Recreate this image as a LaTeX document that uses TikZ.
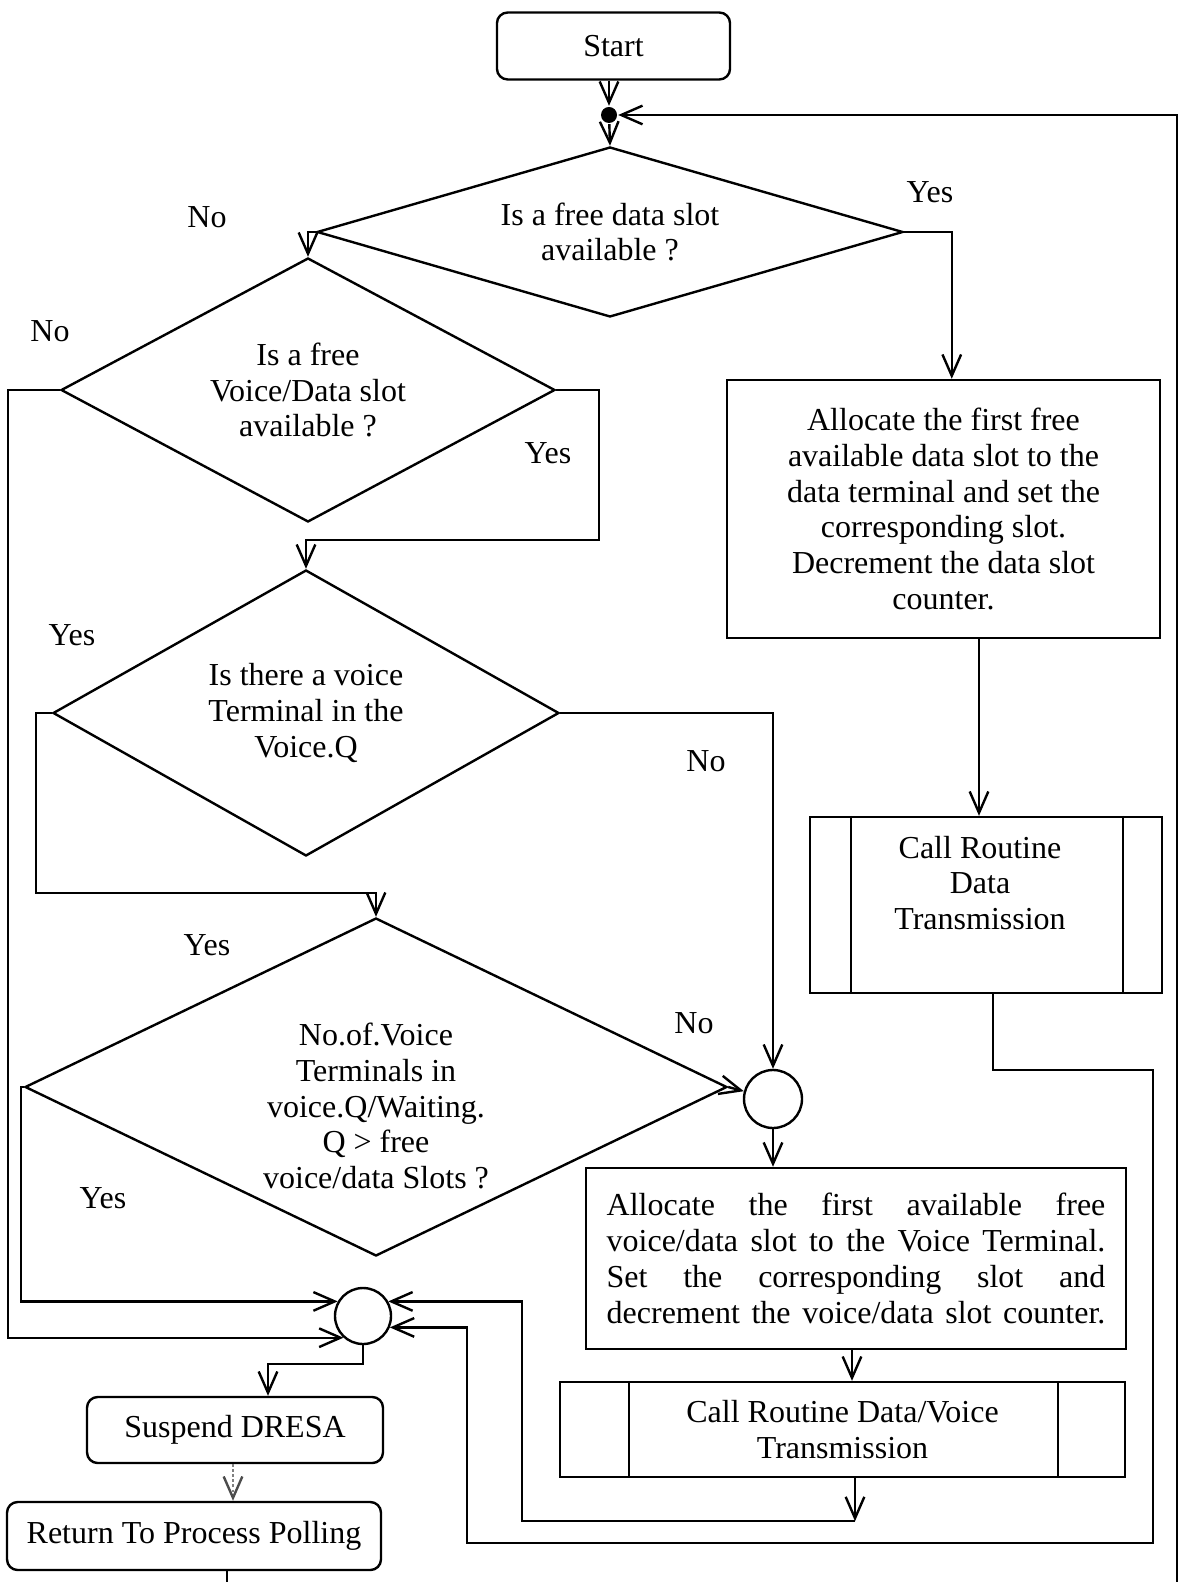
\documentclass[tikz,border=0pt]{standalone}
\usepackage{fontspec}
\setmainfont{Liberation Serif}
\usetikzlibrary{arrows.meta,shapes.geometric,calc}

\begin{document}
\begin{tikzpicture}[x=0.375pt, y=-0.375pt,
  font=\fontsize{12}{13.4}\selectfont,
  line width=0.9pt,
  >={Straight Barb[length=8pt,width=7pt]},
  term/.style={draw, rectangle, rounded corners=4pt, inner sep=0pt},
  proc/.style={draw, rectangle, inner sep=0pt, align=center},
  decision/.style={draw, diamond, inner sep=0pt, align=center},
  junction/.style={draw, circle, inner sep=0pt, minimum size=#1},
  txt/.style={inner sep=0pt, align=center},
  lbl/.style={inner sep=0pt}]

\useasboundingbox (0,0) rectangle (1185,1582);

% ---------- nodes ----------
\node[term, minimum width=87.4pt, minimum height=25.1pt] (start) at (613.5,46) {Start};
\node[circle, fill=black, inner sep=0pt, minimum size=6pt] (J) at (609,115) {};

\node[decision, shape aspect=3.45, minimum width=219.75pt, minimum height=63.75pt] (D1) at (610,232)
  {Is a free data slot\\available ?};
\node[decision, shape aspect=1.87, minimum width=185.25pt, minimum height=99pt] (D2) at (308,390)
  {Is a free\\Voice/Data slot\\available ?};
\node[decision, shape aspect=1.77, minimum width=189.75pt, minimum height=107.25pt] (D3) at (306,713)
  {Is there a voice\\Terminal in the\\Voice.Q};
\node[decision, shape aspect=2.08, minimum width=263.25pt, minimum height=126.75pt] (D4) at (376,1087) {};
\node[txt] (D4text) at (376,1106)
  {No.of.Voice\\Terminals in\\voice.Q/Waiting.\\Q > free\\voice/data Slots ?};

\node[proc, minimum width=162.4pt, minimum height=96.75pt] (alloc1) at (943.5,509)
  {Allocate the first free\\available data slot to the\\data terminal and set the\\corresponding slot.\\Decrement the data slot\\counter.};

\node[proc, minimum width=132pt, minimum height=66pt] (call1) at (986,905) {};
\node[txt] (call1text) at (980,883) {Call Routine\\Data\\Transmission};

\node[junction=21.75pt] (C) at (773,1099) {};

\node[draw, rectangle, inner sep=0pt, minimum width=202.5pt, minimum height=67.9pt,
      text width=187pt, align=left] (alloc2) at (856,1258.5)
  {\makebox[187pt][s]{Allocate\hfill the\hfill first\hfill available\hfill free}\\
   \makebox[187pt][s]{voice/data\hfill slot\hfill to\hfill the\hfill Voice\hfill Terminal.}\\
   \makebox[187pt][s]{Set\hfill the\hfill corresponding\hfill slot\hfill and}\\
   \makebox[187pt][s]{decrement\hfill the\hfill voice/data\hfill slot\hfill counter.}};

\node[proc, minimum width=211.9pt, minimum height=35.6pt] (call2) at (842.5,1429.5)
  {Call Routine Data/Voice\\Transmission};

\node[junction=21pt] (M) at (363,1316) {};

\node[term, minimum width=111pt, minimum height=24.75pt] (suspend) at (235,1430) {Suspend DRESA};
\node[term, minimum width=140.25pt, minimum height=25.5pt] (return) at (194,1536) {Return To Process Polling};

% ---------- side bars of the predefined-process boxes ----------
\draw ($(call1.north west)+(42,0)$) -- ($(call1.south west)+(42,0)$);
\draw ($(call1.north east)+(-40,0)$) -- ($(call1.south east)+(-40,0)$);
\draw ($(call2.north west)+(70,0)$) -- ($(call2.south west)+(70,0)$);
\draw ($(call2.north east)+(-68,0)$) -- ($(call2.south east)+(-68,0)$);

% ---------- branch labels ----------
\node[lbl] (yes1) at (930,192) {Yes};
\node[lbl] (no1) at (207,217) {No};
\node[lbl] (no2) at (50,331) {No};
\node[lbl] (yes2) at (548,453) {Yes};
\node[lbl] (yes3) at (72,635) {Yes};
\node[lbl] (no3) at (706,761) {No};
\node[lbl] (yes4) at (207,945) {Yes};
\node[lbl] (no4) at (694,1023) {No};
\node[lbl] (yes5) at (103,1198) {Yes};

% ---------- connectors ----------
\draw[->] (J |- start.south) -- (J);
\draw[->] (J) -- (D1.north);
\draw[->] (D1.west) -| (D2.north);
\draw[->] (D2.west) -- ++(-52,0) |- (M.228);
\draw[->] (D2.east) -- ++(43,0) -- ++(0,150) -| (D3.north);
\draw[->] (D3.west) -- ++(-16,0) -- ++(0,180) -| (D4.north);
\draw[->] (D3.east) -| (C.north);
\draw[->] (D4.west) -- ++(-3,0) |- (M.150);
\draw[->] (D4.east) -- (C);
\draw[->] (C.south) -- (C.south |- alloc2.north);

\coordinate (a1in) at ($(alloc1.north west)+(226,0)$);
\draw[->] (D1.east) -| (a1in);
\coordinate (c1in) at ($(call1.north)+(-7,0)$);
\draw[->] (c1in |- alloc1.south) -- (c1in);
\draw[->] ($(call1.south)+(7,0)$) -- ++(0,76) -- ++(160,0) -- ++(0,473) -- ++(-686,0) |- (M.337);

\coordinate (c2in) at ($(call2.north)+(9.5,0)$);
\draw[->] (c2in |- alloc2.south) -- (c2in);
\coordinate (c2out) at ($(call2.south)+(12.5,43)$);
\draw[->] (c2out |- call2.south) -- (c2out);
\draw[->] (c2out) -- ++(-333,0) |- (M.30);

\draw[->] (M.south) -- ++(0,19) -| ($(suspend.north)+(33,0)$);
\coordinate (sr) at ($(suspend.south)+(-2,0)$);
\draw[densely dotted, gray, -{Straight Barb[length=8pt,width=7pt,black!70]}] (sr) -- (sr |- return.north);
\draw[->] ($(return.south)+(33,0)$) -- ++(0,45) -| ($(J)+(568,0)$) -- (J);

\end{tikzpicture}
\end{document}
